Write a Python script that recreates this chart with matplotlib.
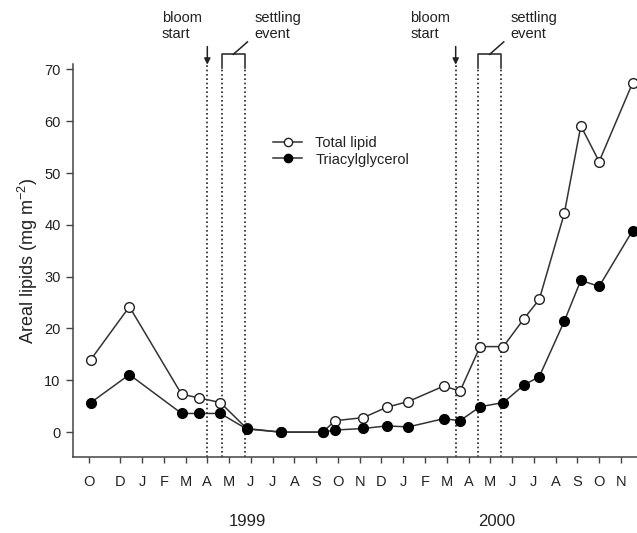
import numpy as np
import matplotlib
matplotlib.use("Agg")
import matplotlib.pyplot as plt
from matplotlib.transforms import blended_transform_factory

plt.rcParams['font.family'] = ['Liberation Sans', 'DejaVu Sans']
plt.rcParams['mathtext.fontset'] = 'custom'
plt.rcParams['mathtext.rm'] = 'Liberation Sans'
plt.rcParams['mathtext.it'] = 'Liberation Sans:italic'

# sampling dates, in months from January 1999
sample_month = [-2.35, -0.58, 1.82, 2.63, 3.6, 4.81, 6.38, 8.3, 8.87, 10.17, 11.24,
                12.23, 13.87, 14.61, 15.53, 16.6, 17.55, 18.25, 19.4, 20.16, 21.0, 22.54]
total_lipid = [14.0, 24.2, 7.3, 6.6, 5.7, 0.7, 0.0, 0.0, 2.2, 2.8, 4.8,
               5.9, 8.9, 7.9, 16.5, 16.5, 21.9, 25.6, 42.2, 59.1, 52.2, 67.4]
triacylglycerol = [5.7, 11.1, 3.6, 3.6, 3.6, 0.6, 0.0, 0.0, 0.4, 0.7, 1.2,
                   1.0, 2.6, 2.2, 4.9, 5.7, 9.1, 10.7, 21.4, 29.3, 28.1, 38.9]

month_ticks = [-2.43, -1] + list(range(0, 23))
month_labels = ['O', 'D', 'J', 'F', 'M', 'A', 'M', 'J', 'J', 'A', 'S', 'O', 'N',
                'D', 'J', 'F', 'M', 'A', 'M', 'J', 'J', 'A', 'S', 'O', 'N']
years = ['1999', '2000']
year_pos = [4.85, 16.29]

bloom_start = [3.0, 14.41]
settling_event = [(3.66, 4.73), (15.45, 16.49)]

line_col = '#333333'
text_col = '#222222'

fig = plt.figure(figsize=(6.37, 5.33), dpi=100)
ax = fig.add_axes([0.1146, 0.1426, 0.8854, 0.737])

ax.plot(sample_month, total_lipid, '-o', color=line_col, lw=1.1, ms=7,
        mfc='white', mec='#222222', mew=1.0, label='Total lipid', zorder=3)
ax.plot(sample_month, triacylglycerol, '-o', color=line_col, lw=1.1, ms=7,
        mfc='black', mec='black', mew=1.0, label='Triacylglycerol', zorder=4)

ax.set_xlim(-3.17, 22.74)
ax.set_ylim(-4.8, 71)

ymin = -4.8
# bloom start: dotted line plus arrow
for xb in bloom_start:
    ax.plot([xb, xb], [ymin, 71.2], ls=(0, (1, 1.6)), color='#222222', lw=1.2, clip_on=False)
    ax.annotate('', xy=(xb, 70.9), xytext=(xb, 74.4), annotation_clip=False,
                arrowprops=dict(arrowstyle='-|>', color='#222222', lw=1.1,
                                mutation_scale=9, shrinkA=0, shrinkB=0))
    ax.text(xb - 2.08, 75.5, 'bloom\nstart', fontsize=10.5, color=text_col,
            ha='left', va='bottom', linespacing=1.2, clip_on=False)

# settling event: bracket with dotted sides
for x0, x1 in settling_event:
    for xs in (x0, x1):
        ax.plot([xs, xs], [ymin, 70.3], ls=(0, (1, 1.6)), color='#222222', lw=1.2, clip_on=False)
    ax.plot([x0, x0, x1, x1], [70.3, 72.9, 72.9, 70.3], color='#222222', lw=1.1, clip_on=False)
    xm = (x0 + x1) / 2
    ax.plot([xm, xm + 0.65], [72.9, 75.3], color='#222222', lw=1.1, clip_on=False)
    ax.text(x1 + 0.42, 75.5, 'settling\nevent', fontsize=10.5, color=text_col,
            ha='left', va='bottom', linespacing=1.2, clip_on=False)

ax.set_xticks(month_ticks)
ax.set_xticklabels(month_labels)
ax.set_yticks(range(0, 71, 10))
ax.set_ylabel('Areal lipids (mg m$^{-2}$)', fontsize=13, color=text_col, labelpad=3)

ax.tick_params(axis='x', length=4, width=1, color='#444444', pad=9,
               labelsize=10.5, labelcolor=text_col)
ax.tick_params(axis='y', length=5, width=1, color='#444444', pad=4,
               labelsize=10.5, labelcolor=text_col)

for side in ('top', 'right'):
    ax.spines[side].set_visible(False)
for side in ('left', 'bottom'):
    ax.spines[side].set_color('#444444')
    ax.spines[side].set_linewidth(1.1)

trans = blended_transform_factory(ax.transData, ax.transAxes)
for yl, xp in zip(years, year_pos):
    ax.text(xp, -0.163, yl, transform=trans, ha='center', va='center',
            fontsize=12, color=text_col, clip_on=False)

leg = ax.legend(loc='upper left', bbox_to_anchor=(0.4286, 0.745),
                bbox_transform=fig.transFigure, frameon=False, fontsize=10.5,
                handlelength=2.0, handletextpad=0.9, labelspacing=0.18,
                borderpad=0, borderaxespad=0, markerscale=0.85)
for t in leg.get_texts():
    t.set_color(text_col)

fig.savefig('out.png', dpi=100)
